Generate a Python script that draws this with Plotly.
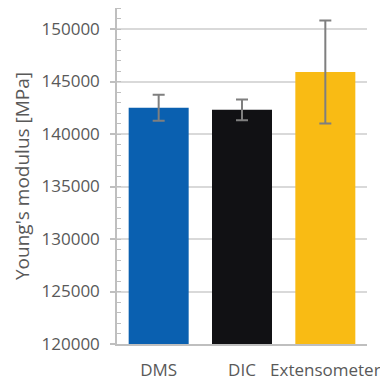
import plotly.graph_objects as go

# Measurement methods and their mean Young's modulus with spread
methods = ["DMS", "DIC", "Extensometer"]
modulus_mpa = [142500, 142300, 145900]
modulus_err = [1230, 980, 4900]
bar_colors = ["#0A60B0", "#111114", "#F9BB14"]

y_ticks = [120000, 125000, 130000, 135000, 140000, 145000, 150000]

label_grey = "#595959"
line_grey = "#BFBFBF"

fig = go.Figure(
    go.Bar(
        x=methods,
        y=modulus_mpa,
        marker=dict(color=bar_colors, line=dict(width=0)),
        error_y=dict(
            type="data",
            array=modulus_err,
            visible=True,
            color="#7F7F7F",
            thickness=2,
            width=6,
        ),
    )
)

fig.update_layout(
    width=380,
    height=383,
    margin=dict(l=117, r=13, t=8, b=39),
    paper_bgcolor="white",
    plot_bgcolor="white",
    bargap=0.28,
    showlegend=False,
    font=dict(family="Open Sans", color=label_grey),
)

fig.update_xaxes(
    type="category",
    automargin=False,
    showline=True,
    linecolor=line_grey,
    linewidth=1.5,
    showgrid=False,
    ticks="",
    tickfont=dict(size=17, color=label_grey),
    ticklabelstandoff=10,
)

fig.update_yaxes(
    automargin=False,
    range=[120000, 152000],
    tickvals=y_ticks,
    ticktext=[str(v) for v in y_ticks],
    showline=True,
    linecolor=line_grey,
    linewidth=1.5,
    showgrid=True,
    gridcolor="#D9D9D9",
    gridwidth=1.5,
    zeroline=False,
    ticks="outside",
    ticklen=5,
    tickwidth=1.5,
    tickcolor=line_grey,
    tickfont=dict(size=17, color=label_grey),
    ticklabelstandoff=7,
    minor=dict(
        dtick=1000,
        ticks="inside",
        ticklen=4,
        tickwidth=1,
        tickcolor=line_grey,
        showgrid=False,
    ),
    title=dict(
        text="Young's modulus [MPa]",
        font=dict(size=19, color=label_grey),
        standoff=7,
    ),
)

fig.write_html("out.html")
